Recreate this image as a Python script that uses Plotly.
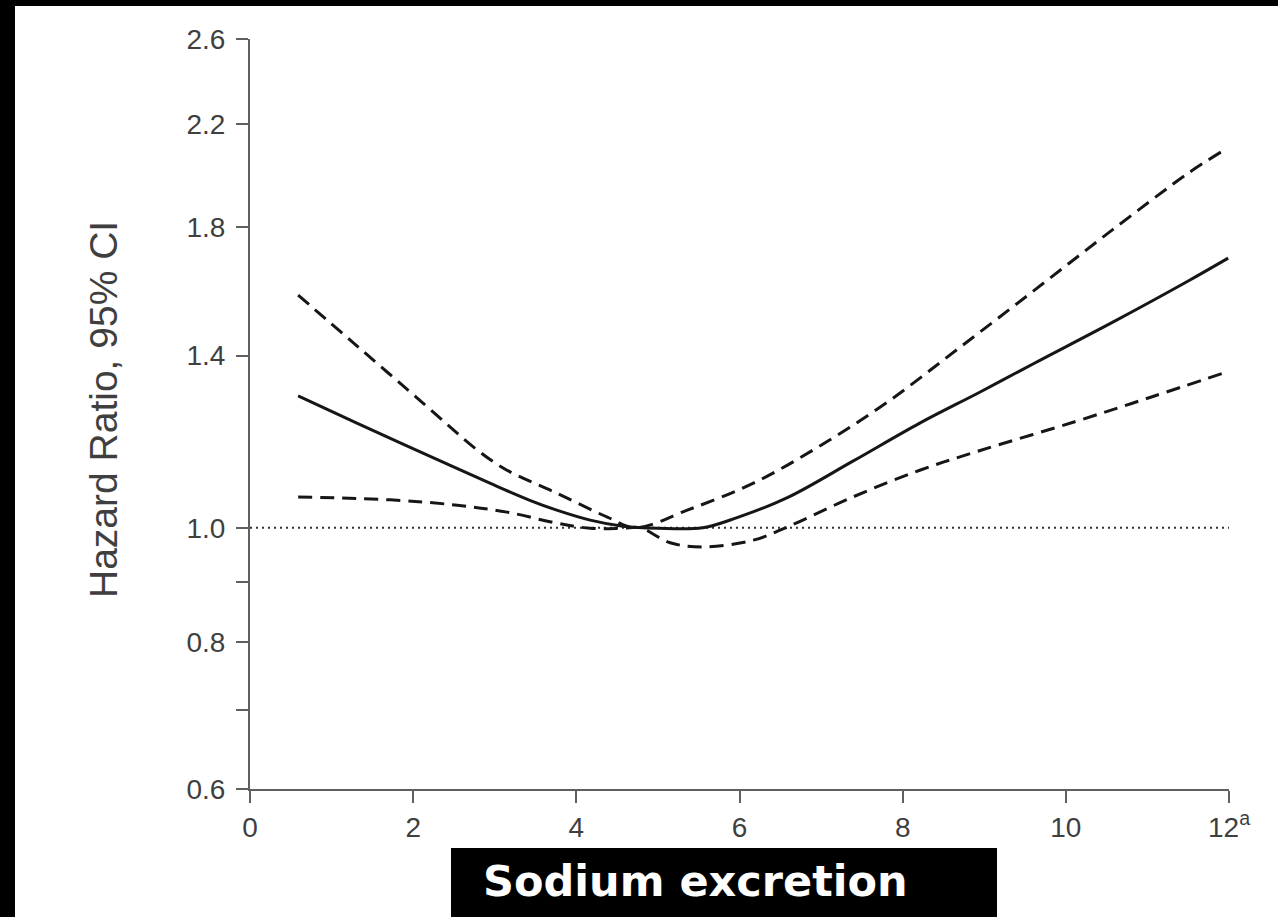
import plotly.graph_objects as go

# ---- data ----
hr_x = [0.59, 1.31, 2.12, 2.94, 3.43, 3.76, 4.17, 4.57, 5.0, 5.55, 5.97, 6.58, 7.39, 8.21, 8.95, 9.62, 10.57, 11.5, 11.99]
hr_y = [1.294, 1.227, 1.157, 1.091, 1.055, 1.035, 1.015, 1.003, 0.999, 1.0, 1.02, 1.06, 1.139, 1.227, 1.304, 1.38, 1.494, 1.62, 1.694]

up_x = [0.59, 1.31, 2.12, 2.78, 3.15, 3.76, 4.38, 4.72, 5.36, 6.17, 6.99, 7.81, 8.68, 9.62, 10.57, 11.5, 11.9]
up_y = [1.576, 1.427, 1.276, 1.165, 1.119, 1.070, 1.021, 1.0, 1.035, 1.091, 1.174, 1.278, 1.419, 1.592, 1.79, 2.0, 2.084]

lo_x = [0.59, 1.72, 2.54, 3.15, 3.76, 4.17, 4.57, 4.78, 5.15, 5.55, 6.17, 6.58, 7.39, 8.21, 8.95, 10.09, 11.03, 11.93]
lo_y = [1.062, 1.056, 1.045, 1.031, 1.009, 0.999, 0.999, 1.0, 0.971, 0.963, 0.976, 1.001, 1.062, 1.119, 1.163, 1.229, 1.29, 1.353]

ref_x = [0, 12]
ref_y = [1.0, 1.0]

x_tickvals = [0, 2, 4, 6, 8, 10, 12]
x_ticktext = ["0", "2", "4", "6", "8", "10", "12<sup>a</sup>"]
y_tickvals = [0.6, 0.8, 1.0, 1.4, 1.8, 2.2, 2.6]
y_ticktext = ["0.6", "0.8", "1.0", "1.4", "1.8", "2.2", "2.6"]
y_minor_ticks = [0.7, 0.9]

y_title = "Hazard Ratio, 95% CI"
x_label = "Sodium excretion"

# ---- figure ----
W, H = 1278, 917
L, R, T, B = 250, 1229, 39, 789
pw, ph = R - L, B - T

def px(xp):
    return (xp - L) / pw

def py(yp):
    return (B - yp) / ph

line_col = "#161616"
axis_col = "#5f5f5f"
txt_col = "#3f3f3f"
font_fam = "Liberation Sans, Arial, Helvetica, sans-serif"

fig = go.Figure()
fig.add_trace(go.Scatter(x=ref_x, y=ref_y, mode="lines",
                         line=dict(color="#333333", width=2, dash="2px,4px"),
                         hoverinfo="skip", showlegend=False))
fig.add_trace(go.Scatter(x=up_x, y=up_y, mode="lines",
                         line=dict(color=line_col, width=3, dash="14px,8px", shape="spline", smoothing=1.0),
                         showlegend=False))
fig.add_trace(go.Scatter(x=lo_x, y=lo_y, mode="lines",
                         line=dict(color=line_col, width=3, dash="14px,8px", shape="spline", smoothing=1.0),
                         showlegend=False))
fig.add_trace(go.Scatter(x=hr_x, y=hr_y, mode="lines",
                         line=dict(color=line_col, width=3, shape="spline", smoothing=1.0),
                         showlegend=False))

fig.update_layout(
    width=W, height=H,
    margin=dict(l=L, r=W - R, t=T, b=H - B, pad=0),
    paper_bgcolor="white", plot_bgcolor="white",
    font=dict(family=font_fam, color=txt_col, size=28),
    xaxis=dict(range=[0, 12], tickmode="array", tickvals=x_tickvals, ticktext=x_ticktext,
               showline=True, linecolor=axis_col, linewidth=2, ticks="outside",
               ticklen=12, tickwidth=2, tickcolor=axis_col, showgrid=False, zeroline=False,
               tickfont=dict(size=28, color=txt_col, family=font_fam)),
    yaxis=dict(type="log", range=[0.7781513 - 1, 0.4149733], tickmode="array",
               tickvals=y_tickvals, ticktext=y_ticktext,
               showline=True, linecolor=axis_col, linewidth=2, ticks="outside",
               ticklen=12, tickwidth=2, tickcolor=axis_col, showgrid=False, zeroline=False,
               ticklabelstandoff=5,
               minor=dict(tickmode="array", tickvals=y_minor_ticks, ticks="outside",
                          ticklen=12, tickwidth=2, tickcolor=axis_col, showgrid=False),
               tickfont=dict(size=28, color=txt_col, family=font_fam)),
    shapes=[
        dict(type="rect", xref="paper", yref="paper", x0=px(0), x1=px(15), y0=py(H), y1=py(0),
             fillcolor="black", line=dict(width=0), layer="above"),
        dict(type="rect", xref="paper", yref="paper", x0=px(0), x1=px(W), y0=py(6), y1=py(0),
             fillcolor="black", line=dict(width=0), layer="above"),
        dict(type="rect", xref="paper", yref="paper", x0=px(451), x1=px(997), y0=py(H), y1=py(848),
             fillcolor="black", line=dict(width=0), layer="above"),
    ],
    annotations=[
        dict(text=y_title, xref="paper", yref="paper", x=px(103), y=py(410),
             xanchor="center", yanchor="middle", textangle=-90, showarrow=False,
             font=dict(size=39, color=txt_col, family=font_fam)),
        dict(text="<b>" + x_label + "</b>", xref="paper", yref="paper", x=px(695), y=py(881),
             xanchor="center", yanchor="middle", showarrow=False,
             font=dict(size=43, color="white", family="Comic Sans MS, DejaVu Sans, sans-serif")),
    ],
)

fig.write_html("out.html", config={"displayModeBar": False},
               post_script="document.body.style.margin='0';document.body.style.padding='0';")
